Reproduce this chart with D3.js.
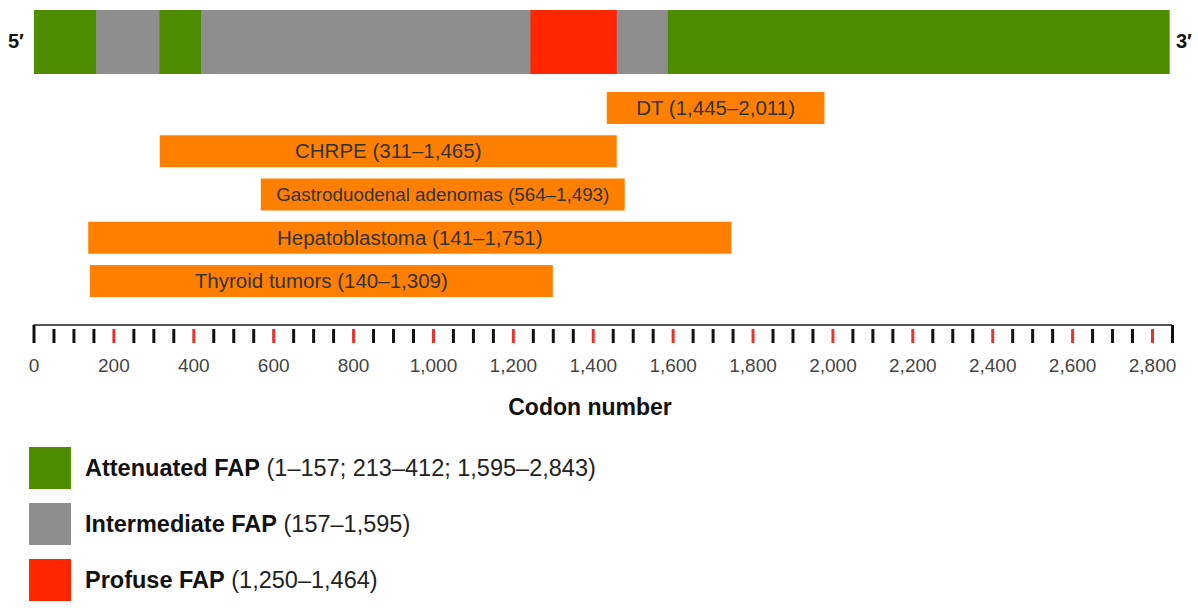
<!DOCTYPE html>
<html>
<head>
<meta charset="utf-8">
<script src="https://cdn.jsdelivr.net/npm/d3@7/dist/d3.min.js"></script>
<style>
  body { margin: 0; background: #fff; }
  svg { font-family: "Liberation Sans", Arial, sans-serif; }
</style>
</head>
<body>
<div id="chart"></div>
<script>
// gene segments (codon ranges) for the top bar
var segStart = [1, 157, 315, 420, 1244, 1460, 1588];
var segEnd = [157, 315, 420, 1244, 1460, 1588, 2843];
var segType = ['Attenuated', 'Intermediate', 'Attenuated', 'Intermediate', 'Profuse', 'Intermediate', 'Attenuated'];

// tumor ranges
var tumorLabels = ['DT (1,445\u20132,011)', 'CHRPE (311\u20131,465)', 'Gastroduodenal adenomas (564\u20131,493)',
  'Hepatoblastoma (141\u20131,751)', 'Thyroid tumors (140\u20131,309)'];
var tumorStart = [1435, 316, 569, 137, 141];
var tumorEnd = [1980, 1460, 1480, 1747, 1300];

// legend
var legendTypes = ['Attenuated', 'Intermediate', 'Profuse'];
var legendBold = ['Attenuated FAP', 'Intermediate FAP', 'Profuse FAP'];
var legendRange = [' (1\u2013157; 213\u2013412; 1,595\u20132,843)', ' (157\u20131,595)', ' (1,250\u20131,464)'];

// axis ticks every 50 codons
var tickVals = d3.range(0, 2851, 50);

var svgWidth = 1198;
var svgHeight = 608;

var svg = d3.select('#chart')
  .append('svg')
  .attr('width', svgWidth)
  .attr('height', svgHeight);

var color = d3.scaleOrdinal()
  .domain(['Attenuated', 'Intermediate', 'Profuse'])
  .range(['#4e8c00', '#8e8e8e', '#ff2600']);

var x = d3.scaleLinear()
  .domain([0, 2800])
  .range([33.5, 1152]);

// top bar
var segs = segStart.map(function(s, i) { return {s: s, e: segEnd[i], t: segType[i]}; });
svg.append('g').selectAll('rect')
  .data(segs)
  .enter()
  .append('rect')
  .attr('x', d => x(d.s))
  .attr('y', 10)
  .attr('width', d => x(d.e) - x(d.s) + 0.5)
  .attr('height', 64)
  .attr('fill', d => color(d.t));

svg.append('text')
  .attr('x', 8).attr('y', 48)
  .attr('font-size', '20px').attr('font-weight', 'bold').attr('fill', '#111')
  .text('5\u2032');
svg.append('text')
  .attr('x', 1176).attr('y', 48)
  .attr('font-size', '20px').attr('font-weight', 'bold').attr('fill', '#111')
  .text('3\u2032');

// tumor bars
var yBand = d3.scaleBand()
  .domain(tumorLabels)
  .range([92, 297])
  .paddingInner(0.26);

var tumors = tumorLabels.map(function(l, i) { return {l: l, s: tumorStart[i], e: tumorEnd[i]}; });
var tg = svg.append('g').selectAll('g')
  .data(tumors)
  .enter()
  .append('g');

tg.append('rect')
  .attr('x', d => x(d.s))
  .attr('y', d => yBand(d.l))
  .attr('width', d => x(d.e) - x(d.s))
  .attr('height', yBand.bandwidth())
  .attr('fill', '#ff8000');

tg.append('text')
  .attr('x', d => (x(d.s) + x(d.e)) / 2)
  .attr('y', d => yBand(d.l) + yBand.bandwidth() / 2 + 7)
  .attr('text-anchor', 'middle')
  .attr('font-size', '20.5px')
  .attr('fill', '#333')
  .text(d => d.l)
  .each(function(d) {
    // shrink labels that would not fit inside their bar
    var room = x(d.e) - x(d.s) - 30;
    var len = this.getComputedTextLength();
    if (len > room) {
      d3.select(this)
        .attr('font-size', (20.5 * room / len).toFixed(1) + 'px')
        .attr('y', yBand(d.l) + yBand.bandwidth() / 2 + 6);
    }
  });

// codon axis
var axis = d3.axisBottom(x)
  .tickValues(tickVals)
  .tickSizeOuter(0)
  .tickSize(18)
  .tickFormat(d => (d % 200 === 0) ? d3.format(',')(d) : '');

var axisG = svg.append('g')
  .attr('transform', 'translate(0, 325)')
  .call(axis);

axisG.select('.domain')
  .attr('d', `M${x(0)},0H${x(2850)}`)
  .attr('stroke', '#555')
  .attr('stroke-width', 2);

axisG.selectAll('.tick line')
  .attr('y1', d => (d === 0 || d === 2850) ? 0 : 4)
  .attr('y2', 18)
  .attr('stroke-width', 3)
  .attr('stroke', d => (d > 0 && d % 200 === 0) ? '#e8332a' : '#111');

axisG.selectAll('.tick text')
  .attr('y', 47)
  .attr('dy', null)
  .attr('font-size', '19px')
  .attr('font-family', '"Liberation Sans", Arial, sans-serif')
  .attr('fill', '#444');

svg.append('text')
  .attr('x', 590)
  .attr('y', 415)
  .attr('text-anchor', 'middle')
  .attr('font-size', '23px')
  .attr('font-weight', 'bold')
  .attr('fill', '#111')
  .text('Codon number');

// legend
var lg = svg.append('g').selectAll('g')
  .data(legendTypes)
  .enter()
  .append('g')
  .attr('transform', (d, i) => `translate(29, ${447 + i * 56})`);

lg.append('rect')
  .attr('width', 42)
  .attr('height', 42)
  .attr('fill', d => color(d));

var lt = lg.append('text')
  .attr('x', 56)
  .attr('y', 29)
  .attr('font-size', '23.5px')
  .attr('fill', '#111');

lt.append('tspan')
  .attr('font-weight', 'bold')
  .text((d, i) => legendBold[i]);
lt.append('tspan')
  .attr('fill', '#222')
  .text((d, i) => legendRange[i]);
</script>
</body>
</html>
